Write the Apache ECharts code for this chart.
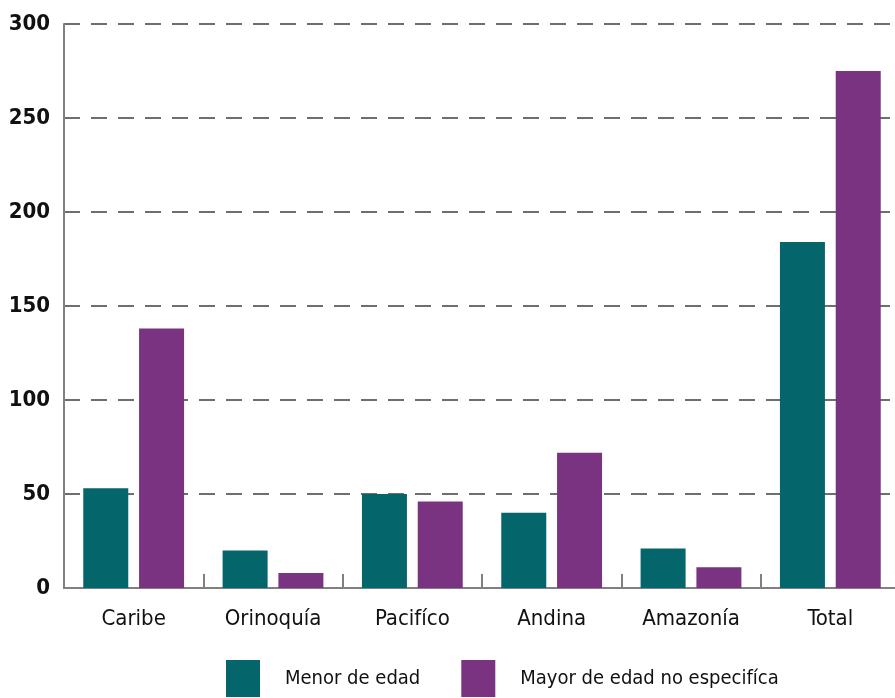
<!DOCTYPE html>
<html>
<head>
<meta charset="utf-8">
<script src="https://cdn.jsdelivr.net/npm/echarts@6/dist/echarts.min.js"></script>
<style>
  html, body { margin: 0; padding: 0; background: #fff; overflow: hidden; }
  #chart { width: 900px; height: 698px; }
</style>
</head>
<body>
<div id="chart"></div>
<script>
const categories = ["Caribe", "Orinoquía", "Pacifíco", "Andina", "Amazonía", "Total"];
const menorDeEdad = [53, 20, 50, 40, 21, 184];
const mayorNoEspecifica = [138, 8, 46, 72, 11, 275];
const seriesNames = ["Menor de edad", "Mayor de edad no especifíca"];

const font = "'DejaVu Sans Condensed', 'Liberation Sans Narrow', sans-serif";

// plot area runs slightly past the right edge of the window, as in the original
const chart = echarts.init(document.getElementById("chart"));
chart.setOption({
  animation: false,
  textStyle: { fontFamily: font },
  grid: { left: 64, right: 0, top: 24, bottom: 110, containLabel: false },
  legend: {
    top: 655,
    left: 221,
    icon: "rect",
    itemWidth: 34,
    itemHeight: 37,
    itemGap: 41,
    textStyle: { fontFamily: font, fontSize: 20, color: "#111", padding: [0, 0, 0, 20] },
    data: seriesNames
  },
  xAxis: {
    type: "category",
    data: categories,
    axisLine: { lineStyle: { color: "#808080", width: 2 } },
    axisTick: { show: true, inside: true, length: 14, lineStyle: { color: "#808080", width: 2 } },
    axisLabel: { fontFamily: font, fontSize: 22, color: "#111", margin: 20 }
  },
  yAxis: {
    type: "value",
    min: 0,
    max: 300,
    interval: 50,
    axisLine: { show: true, lineStyle: { color: "#808080", width: 2 } },
    axisTick: { show: false },
    splitLine: { lineStyle: { color: "#6e6e6e", type: [16, 11], width: 2 } },
    axisLabel: { fontFamily: font, fontSize: 22, fontWeight: "bold", color: "#111", margin: 14 }
  },
  series: [
    {
      name: seriesNames[0],
      type: "bar",
      data: menorDeEdad,
      barWidth: 45,
      barGap: "24%",
      itemStyle: { color: "#04656a" }
    },
    {
      name: seriesNames[1],
      type: "bar",
      data: mayorNoEspecifica,
      barWidth: 45,
      itemStyle: { color: "#7a3381" }
    }
  ]
});
</script>
</body>
</html>
